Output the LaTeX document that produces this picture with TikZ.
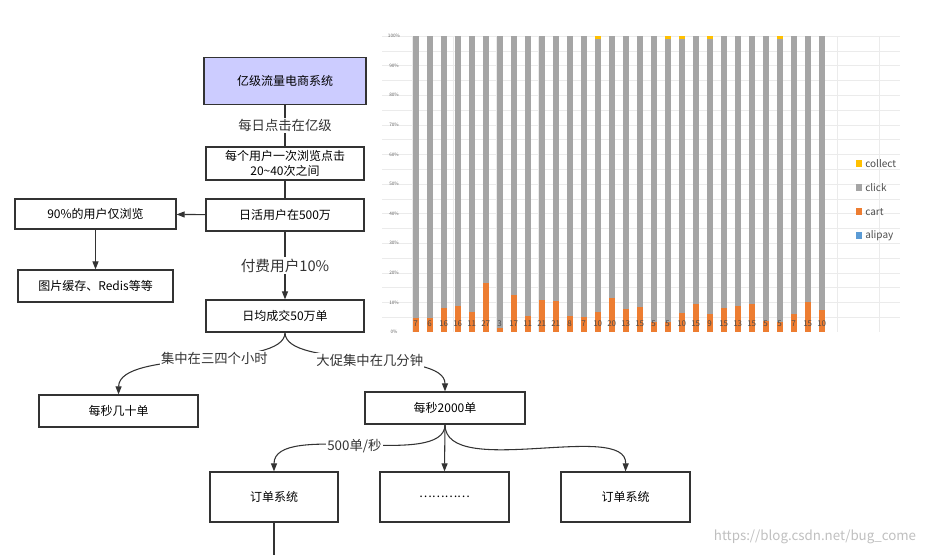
\documentclass[tikz,border=0pt]{standalone}
\usepackage{fontspec}
\setmainfont{Noto Sans CJK SC}
\usetikzlibrary{arrows.meta}
\definecolor{lav}{RGB}{204,204,255}
\definecolor{cgray}{RGB}{165,165,165}
\definecolor{corange}{RGB}{237,125,49}
\definecolor{cyellow}{RGB}{255,192,0}
\definecolor{cblue}{RGB}{91,155,213}
\begin{document}
\begin{tikzpicture}[x=0.75pt,y=-0.75pt,
  box/.style={draw=black!80,line width=0.9pt,minimum width=#1*0.75pt,inner sep=1pt,font=\fontsize{9}{11}\selectfont,align=center},
  lab/.style={fill=white,inner sep=1pt,font=\fontsize{10}{12}\selectfont},
  arr/.style={-{Triangle[length=6pt,width=4.5pt]},black!80,line width=0.8pt}]
\useasboundingbox (0,0) rectangle (935,554);
% chart
\foreach \yy in {36,50.8,...,332} \draw[black!8,line width=0.4pt] (382,\yy) -- (900,\yy);
\foreach \xx in {412,453,496,538,581,623,666,708,751,793,837,879} \draw[black!8,line width=0.4pt] (\xx,36) -- (\xx,332);
\foreach \p [count=\i from 0] in {100,90,80,70,60,50,40,30,20,10,0}
  \node[font=\fontsize{3.5}{4}\selectfont,text=black!60,inner sep=0pt] at (394,{36+29.6*\i}) {\p\%};
\foreach \t/\v/\yel [count=\i from 0] in {893/7/0,895/6/0,863/16/0,857/16/0,876/11/0,790/27/0,925/3/0,825/17/0,888/11/0,840/21/0,842/21/0,888/8/0,890/7/0,876/10/1,835/20/0,866/13/0,860/15/0,905/5/0,905/5/1,880/10/1,851/15/0,883/9/1,863/15/0,857/13/0,851/15/0,902/5/0,905/5/1,883/7/0,845/15/0,870/10/0}{
  \pgfmathsetmacro\bx{415.7+14*\i}
  \pgfmathsetmacro\ty{20+\t/3}
  \fill[cgray] (\bx-3,36) rectangle (\bx+3,\ty);
  \fill[corange] (\bx-3,\ty) rectangle (\bx+3,332);
  \ifnum\yel=1 \fill[cyellow] (\bx-3,36) rectangle (\bx+3,38.5);\fi
  \node[font=\fontsize{6}{7}\selectfont,text=black!70,inner sep=0pt] at (\bx,324) {\v};
}
\foreach \c/\n [count=\i from 0] in {cyellow/collect,cgray/click,corange/cart,cblue/alipay}{
  \fill[\c] (856,{160+24*\i}) rectangle (862,{167+24*\i});
  \node[anchor=west,font=\fontsize{7.5}{9}\selectfont,text=black!70,inner sep=0pt] at (865,{164+24*\i}) {\n};
}
% flow
\node[box=162,minimum height=35.25pt,fill=lav] (top) at (285,81) {亿级流量电商系统};
\node[box=158,minimum height=24.75pt] (b2) at (285,163.5) {每个用户一次浏览点击\\20\textasciitilde 40次之间};
\node[box=158,minimum height=24pt] (b3) at (285,215) {日活用户在500万};
\node[box=161,minimum height=22.5pt] (l1) at (95.5,214) {90\%的用户仅浏览};
\node[box=155,minimum height=24pt] (l2) at (95.5,286) {图片缓存、Redis等等};
\node[box=158,minimum height=24pt] (b4) at (285,316) {日均成交50万单};
\node[box=159,minimum height=24pt] (s1) at (118.5,411) {每秒几十单};
\node[box=160,minimum height=24pt] (s2) at (445,408) {每秒2000单};
\node[box=128,minimum height=37.5pt] (o1) at (274,497) {订单系统};
\node[box=129,minimum height=37.5pt] (o2) at (444.5,497) {…………};
\node[box=129,minimum height=37.5pt] (o3) at (625.5,497) {订单系统};
\coordinate (bot) at (274,556);
\draw[black!80,line width=0.8pt] (top) -- node[lab]{每日点击在亿级} (b2);
\draw[black!80,line width=0.8pt] (b2) -- (b3);
\draw[arr] (b3) -- (l1);
\draw[arr] (l1) -- (l2);
\draw[arr] (b3) -- node[lab,font=\fontsize{11}{13}\selectfont]{付费用户10\%} (b4);
\draw[arr] (b4.south) .. controls (285,370) and (119,348) .. node[lab,pos=0.45]{集中在三四个小时} (s1.north);
\draw[arr] (b4.south) .. controls (285,370) and (445,348) .. node[lab,pos=0.52]{大促集中在几分钟} (s2.north);
\draw[arr] (s2.south) .. controls (445,470) and (274,420) .. node[lab,pos=0.52]{500单/秒} (o1.north);
\draw[arr] (s2.south) -- (o2.north);
\draw[arr] (s2.south) .. controls (445,480) and (627,420) .. (o3.north);
\draw[black!80,line width=0.8pt] (o1) -- (bot);
\node[font=\fontsize{10}{12}\selectfont,text=black!25] (wm) at (815,537) {https://blog.csdn.net/bug\_come};
\end{tikzpicture}
\end{document}
